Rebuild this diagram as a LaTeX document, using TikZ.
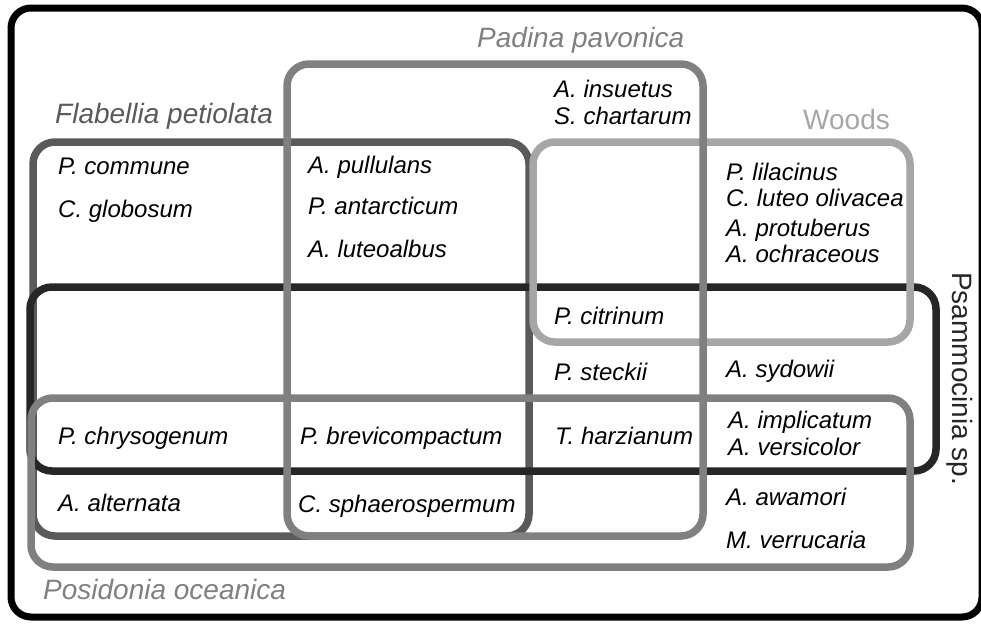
\documentclass[tikz,border=0pt]{standalone}
\usepackage{fontspec}
\setmainfont{Liberation Sans}
\usetikzlibrary{positioning}

\definecolor{flabgray}{HTML}{5A5A5A}
\definecolor{psamgray}{HTML}{262626}
\definecolor{woodgray}{HTML}{A6A6A6}
\definecolor{midgray}{HTML}{808080}

\begin{document}
\begin{tikzpicture}
      [
        x = 1pt, y = -1pt,
        SetBox/.style={line width=7.5pt, rounded corners=22pt},
        Species/.style={anchor=base west, inner sep=0pt, font=\fontsize{24}{28}\selectfont\itshape},
        SetName/.style={anchor=base west, inner sep=0pt, font=\fontsize{28}{32}\selectfont\itshape},
      ]

      \useasboundingbox (0,0) rectangle (981,624);
      \draw [line width=7pt, rounded corners=20pt] (11,8) rectangle (982,617);

      % the five sets, bottom one first
      \draw [SetBox, flabgray] (33,142) rectangle (529,536);
      \draw [SetBox, psamgray] (30,287) rectangle (936,471);
      \draw [SetBox, woodgray] (533,142) rectangle (910,342);
      \draw [SetBox, midgray]  (31,398) rectangle (910,567);
      \draw [SetBox, midgray]  (287,64) rectangle (703,536);

      % set names
      \node [SetName, midgray]  (padina) at (477,47) {Padina pavonica};
      \node [SetName, flabgray] (flab)   at (55,123) {Flabellia petiolata};
      \node [SetName, woodgray, font=\fontsize{28}{32}\selectfont] (woods) at (803,129) {Woods};
      \node [SetName, midgray]  (posid)  at (43,599) {Posidonia oceanica};
      \node [SetName, psamgray, font=\fontsize{28}{32}\selectfont, rotate=-90] (psam) at (952,272) {Psammocinia sp.};

      % species
      \node [Species] (pcom)  at (58,174) {P. commune};
      \node [Species] (cglo)  at (58,217) {C. globosum};
      \node [Species] (apul)  at (308,173) {A. pullulans};
      \node [Species] (pant)  at (308,214) {P. antarcticum};
      \node [Species] (alut)  at (308,257) {A. luteoalbus};
      \node [Species] (ains)  at (554,97) {A. insuetus};
      \node [Species] (scha)  at (554,124) {S. chartarum};
      \node [Species] (plil)  at (726,180) {P. lilacinus};
      \node [Species] (cluo)  at (726,206) {C. luteo olivacea};
      \node [Species] (apro)  at (726,236) {A. protuberus};
      \node [Species] (aoch)  at (726,262) {A. ochraceous};
      \node [Species] (pcit)  at (554,324) {P. citrinum};
      \node [Species] (pste)  at (554,380) {P. steckii};
      \node [Species] (asyd)  at (726,377) {A. sydowii};
      \node [Species] (thar)  at (555,444) {T. harzianum};
      \node [Species] (aimp)  at (728,428) {A. implicatum};
      \node [Species] (aver)  at (728,455) {A. versicolor};
      \node [Species] (aawa)  at (726,505) {A. awamori};
      \node [Species] (mver)  at (726,548) {M. verrucaria};
      \node [Species] (pchr)  at (58,444) {P. chrysogenum};
      \node [Species] (pbre)  at (300,444) {P. brevicompactum};
      \node [Species] (aalt)  at (58,511) {A. alternata};
      \node [Species] (csph)  at (298,512) {C. sphaerospermum};
\end{tikzpicture}
\end{document}
